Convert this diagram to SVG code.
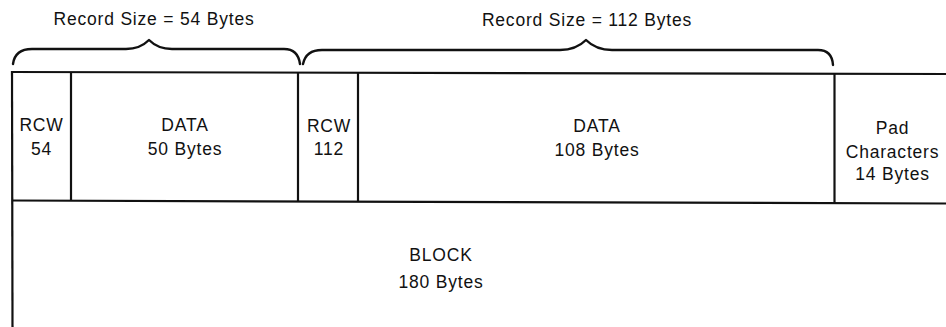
<svg xmlns="http://www.w3.org/2000/svg" width="946" height="327" viewBox="0 0 946 327">
<style>
.ln{stroke:#111;stroke-width:2.2;fill:none;stroke-linecap:butt}
.br{stroke:#111;stroke-width:2.4;fill:none;stroke-linecap:round;stroke-linejoin:round}
text{font-family:"Liberation Sans",Arial,Helvetica,sans-serif;font-size:17.5px;fill:#111;letter-spacing:0.8px;text-anchor:middle}
</style>
<rect width="946" height="327" fill="#fff"/>
<g id="connectors">
<line class="ln" x1="11" y1="72" x2="946" y2="74"/>
<line class="ln" x1="12" y1="200.5" x2="946" y2="203.5"/>
<line class="ln" x1="12" y1="71" x2="12.5" y2="327"/>
<line class="ln" x1="71" y1="72" x2="71" y2="201"/>
<line class="ln" x1="298" y1="72.5" x2="298" y2="201.5"/>
<line class="ln" x1="358" y1="72.5" x2="358" y2="201.5"/>
<line class="ln" x1="834.5" y1="73.5" x2="834.5" y2="203"/>
</g>
<g id="brace1">
<path class="br" d="M13,64 Q15,49 32,49 L126,49 Q140,49 149,40 Q158,49 172,49 L284,49 Q298,49 300,64"/>
<text x="154" y="25">Record Size = 54 Bytes</text>
</g>
<g id="brace2">
<path class="br" d="M303,64 Q306,50 322,50 L560,50 Q576,50 586,40 Q596,50 612,50 L818,50 Q832,50 833,65"/>
<text x="587" y="26">Record Size = 112 Bytes</text>
</g>
<g id="rcw1">
<text x="41.5" y="131">RCW</text>
<text x="41.5" y="154.5">54</text>
</g>
<g id="data1">
<text x="185" y="131">DATA</text>
<text x="185" y="155">50 Bytes</text>
</g>
<g id="rcw2">
<text x="329" y="131.5">RCW</text>
<text x="329" y="155">112</text>
</g>
<g id="data2">
<text x="597" y="132">DATA</text>
<text x="597" y="156">108 Bytes</text>
</g>
<g id="pad">
<text x="892.5" y="134">Pad</text>
<text x="892.5" y="157.5">Characters</text>
<text x="892.5" y="179.5">14 Bytes</text>
</g>
<g id="block">
<text x="441" y="261">BLOCK</text>
<text x="441" y="288">180 Bytes</text>
</g>
</svg>
